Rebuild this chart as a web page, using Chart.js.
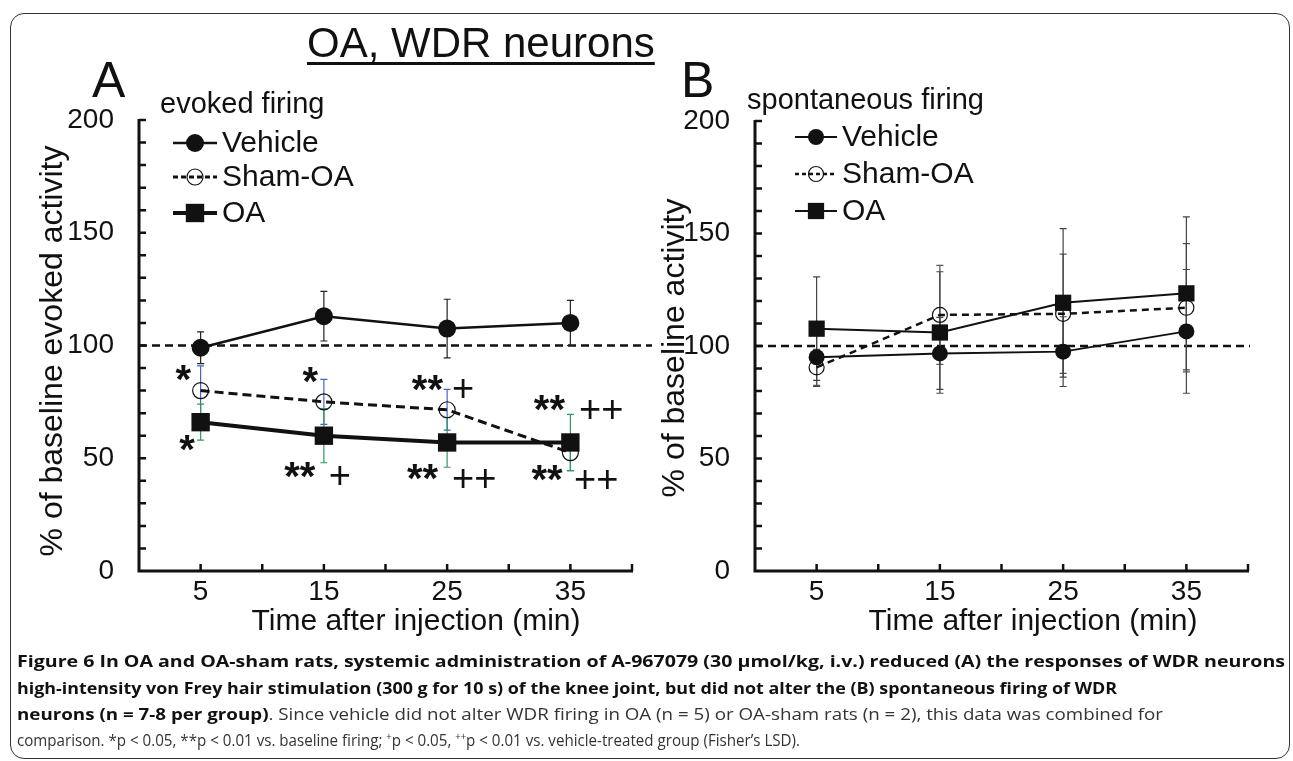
<!DOCTYPE html>
<html>
<head>
<meta charset="utf-8">
<script src="https://cdn.jsdelivr.net/npm/chart.js@4.4.0/dist/chart.umd.min.js"></script>
<style>
  body { margin: 0; width: 1293px; height: 761px; overflow: hidden; background: #fff; position: relative; font-family: "Liberation Sans", Arial, sans-serif; color: #111; }
  #frame { position: absolute; left: 10px; top: 13px; width: 1278px; height: 744px; border: 1.5px solid #333; border-radius: 14px; }
  canvas { position: absolute; left: 0; top: 0; }
  .lbl { position: absolute; white-space: nowrap; line-height: 1; }
  #title { left: 307px; top: 22px; font-size: 42px; text-decoration: underline; text-decoration-thickness: 3px; text-underline-offset: 5px; }
  #pa, #pb { top: 55px; font-size: 50px; }
  #pa { left: 92px; }
  #pb { left: 681px; }
  .sub { font-size: 29px; }
  .cap { position: absolute; left: 17px; white-space: nowrap; line-height: 1; font-family: "Open Sans", sans-serif; font-size: 16px; color: #333; transform-origin: 0 0; }
  .cap b { color: #111; }
  .cap sup { font-size: 10px; vertical-align: 6px; line-height: 0; }
</style>
</head>
<body>
<div id="frame"></div>
<canvas id="chartA" width="1293" height="761"></canvas>
<canvas id="chartB" width="1293" height="761"></canvas>
<div class="lbl" id="title">OA, WDR neurons</div>
<div class="lbl" id="pa">A</div>
<div class="lbl" id="pb">B</div>
<div class="lbl sub" style="left:160px;top:89px">evoked firing</div>
<div class="lbl sub" style="left:747px;top:85px">spontaneous firing</div>
<div class="cap" data-w="1268" style="top:653px"><b>Figure 6 In OA and OA-sham rats, systemic administration of A-967079 (30 μmol/kg, i.v.) reduced (A) the responses of WDR neurons</b></div>
<div class="cap" data-w="1100" style="top:680px"><b>high-intensity von Frey hair stimulation (300 g for 10 s) of the knee joint, but did not alter the (B) spontaneous firing of WDR</b></div>
<div class="cap" data-w="1146" style="top:706px"><b>neurons (n = 7-8 per group)</b>. Since vehicle did not alter WDR firing in OA (n = 5) or OA-sham rats (n = 2), this data was combined for</div>
<div class="cap" data-w="783" style="top:732px">comparison. *p &lt; 0.05, **p &lt; 0.01 vs. baseline firing; <sup>+</sup>p &lt; 0.05, <sup>++</sup>p &lt; 0.01 vs. vehicle-treated group (Fisher’s LSD).</div>
<script>
const FONT = '"Liberation Sans", Arial, sans-serif';

const times = [5, 15, 25, 35];
const seriesNames = ['Vehicle', 'Sham-OA', 'OA'];
const xTicks = [5, 15, 25, 35];
const yTicks = [0, 50, 100, 150, 200];
const baseline = 100;

// panel A: evoked firing, % of baseline (mean, error)
const evokedVehicle = [99, 113, 107.5, 110];
const evokedVehicleErr = [7, 11, 13, 10];
const evokedSham = [80, 75, 71.5, 52.5];
const evokedShamErr = [11, 10, 9, 8];
const evokedOA = [66, 60, 57, 57];
const evokedOAErr = [8, 12, 11, 12.5];

// panel B: spontaneous firing
const spontVehicle = [95, 96.7, 97.5, 106.5];
const spontVehicleErr = [13, 16, 15.5, 27.5];
const spontSham = [90.5, 113.8, 114.3, 117];
const spontShamErr = [8, 22, 26.5, 28.5];
const spontOA = [107.7, 106, 119.2, 123.4];
const spontOAErr = [23, 27, 33, 34];

// significance marks in panel A (text, time, %)
const evokedMarks = [
  ['*', 3.6, 87.8], ['*', 3.9, 56.8], ['*', 13.9, 86.9],
  ['**', 13.05, 44.8], ['+', 16.3, 42.6],
  ['**', 23.4, 83.4], ['+', 26.3, 81.2],
  ['**', 23.0, 43.9], ['++', 27.2, 41.2],
  ['**', 33.3, 74.5], ['++', 37.5, 71.8],
  ['**', 33.1, 43.5], ['++', 37.1, 40.8]
];

const pts = arr => times.map((t, i) => ({ x: t, y: arr[i] }));

function textMid(ctx, txt, cx, cy) {
  const m = ctx.measureText(txt);
  ctx.fillText(txt, cx, cy + (m.actualBoundingBoxAscent - m.actualBoundingBoxDescent) / 2);
}

const decor = {
  id: 'decor',
  beforeDatasetsDraw(chart, args, o) {
    const ctx = chart.ctx, xs = chart.scales.x, ys = chart.scales.y, a = chart.chartArea;
    ctx.save();
    // axes with inward ticks
    ctx.strokeStyle = '#111';
    ctx.lineWidth = 3;
    ctx.beginPath();
    ctx.moveTo(a.left, a.top - 1);
    ctx.lineTo(a.left, a.bottom);
    ctx.lineTo(a.right + 1, a.bottom);
    ctx.stroke();
    ctx.lineWidth = 2.5;
    ctx.beginPath();
    ys.ticks.forEach(t => {
      if (t.value === 0) return;
      const py = ys.getPixelForValue(t.value);
      ctx.moveTo(a.left, py); ctx.lineTo(a.left + 7, py);
    });
    xs.ticks.forEach(t => {
      if (t.value === 0) return;
      const px = xs.getPixelForValue(t.value);
      ctx.moveTo(px, a.bottom); ctx.lineTo(px, a.bottom - 7);
    });
    ctx.stroke();
    // baseline
    const yb = ys.getPixelForValue(baseline);
    ctx.setLineDash([8, 5]);
    ctx.lineWidth = 2.5;
    ctx.beginPath();
    ctx.moveTo(a.left, yb); ctx.lineTo(a.right + o.refExtend, yb);
    ctx.stroke();
    ctx.setLineDash([]);
    // error bars
    chart.data.datasets.forEach(ds => {
      ctx.strokeStyle = ds.errColor;
      ctx.lineWidth = 1.2;
      ctx.beginPath();
      ds.data.forEach((p, i) => {
        const px = xs.getPixelForValue(p.x);
        const top = ys.getPixelForValue(p.y + ds.err[i]);
        const bot = ys.getPixelForValue(p.y - ds.err[i]);
        ctx.moveTo(px, top); ctx.lineTo(px, bot);
        ctx.moveTo(px - 3.5, top); ctx.lineTo(px + 3.5, top);
        ctx.moveTo(px - 3.5, bot); ctx.lineTo(px + 3.5, bot);
      });
      ctx.stroke();
    });
    ctx.restore();
  },
  afterDraw(chart, args, o) {
    const ctx = chart.ctx, xs = chart.scales.x, ys = chart.scales.y;
    ctx.save();
    ctx.fillStyle = '#111';
    ctx.textAlign = 'center';
    // axis titles
    ctx.font = '30px ' + FONT;
    textMid(ctx, o.xTitle, o.xTitleAt[0], o.xTitleAt[1]);
    ctx.save();
    ctx.translate(o.yTitleAt[0], o.yTitleAt[1]);
    ctx.rotate(-Math.PI / 2);
    ctx.font = '32px ' + FONT;
    textMid(ctx, o.yTitle, 0, 0);
    ctx.restore();
    // significance marks
    (o.marks || []).forEach(([t, x, y]) => {
      ctx.font = (t.includes('*') ? 'bold 40px ' : '38px ') + FONT;
      textMid(ctx, t, xs.getPixelForValue(x), ys.getPixelForValue(y));
    });
    // legend
    const L = o.legend;
    chart.data.datasets.forEach((ds, i) => {
      const cy = L.rows[i];
      ctx.strokeStyle = ds.borderColor;
      ctx.lineWidth = ds.borderWidth;
      ctx.setLineDash(ds.borderDash ? L.dash : []);
      ctx.beginPath();
      ctx.moveTo(L.x0, cy); ctx.lineTo(L.x0 + L.len, cy);
      ctx.stroke();
      ctx.setLineDash([]);
      ctx.fillStyle = ds.pointBackgroundColor;
      ctx.strokeStyle = ds.pointBorderColor || '#111';
      ctx.lineWidth = ds.pointBorderWidth;
      Chart.helpers.drawPoint(ctx, { pointStyle: ds.pointStyle, rotation: 0, radius: ds.pointRadius, borderWidth: ds.pointBorderWidth }, L.x0 + L.len / 2, cy);
      ctx.fillStyle = '#111';
      ctx.textAlign = 'left';
      ctx.font = '30px ' + FONT;
      ctx.textBaseline = 'middle';
      ctx.fillText(ds.label, L.x0 + L.len + 5, cy + 1);
      ctx.textBaseline = 'alphabetic';
    });
    ctx.restore();
  }
};

function makeChart(id, sets, pad, extra) {
  return new Chart(document.getElementById(id), {
    type: 'line',
    data: { datasets: sets },
    options: {
      responsive: false,
      animation: false,
      events: [],
      layout: { padding: pad },
      plugins: { legend: { display: false }, tooltip: { enabled: false }, decor: extra },
      scales: {
        x: {
          type: 'linear', min: 0, max: 40,
          afterFit: s => { s.height = 50; },
          grid: { display: false }, border: { display: false },
          ticks: { stepSize: 5, autoSkip: false, maxRotation: 0, padding: -4, color: '#111',
                   font: { family: FONT, size: 28 }, callback: v => xTicks.includes(v) ? v : '' }
        },
        y: {
          min: 0, max: 200,
          afterFit: s => { s.width = 100; },
          grid: { display: false }, border: { display: false },
          ticks: { stepSize: 10, autoSkip: false, padding: 17, color: '#111',
                   font: { family: FONT, size: 28 }, callback: v => yTicks.includes(v) ? v : '' }
        }
      }
    },
    plugins: [decor]
  });
}

const circleSet = (vals, err, errColor, r, lw) => ({
  label: seriesNames[0], data: pts(vals), err, errColor, order: 2,
  borderColor: '#111', borderWidth: lw,
  pointStyle: 'circle', pointRadius: r, pointBackgroundColor: '#111', pointBorderWidth: 0
});
const shamSet = (vals, err, errColor, r, lw, dash) => ({
  label: seriesNames[1], data: pts(vals), err, errColor, order: 3,
  borderColor: '#111', borderWidth: lw, borderDash: dash,
  pointStyle: 'circle', pointRadius: r, pointBackgroundColor: 'rgba(0,0,0,0)',
  pointBorderColor: '#111', pointBorderWidth: 1.2
});
const squareSet = (vals, err, errColor, r, lw) => ({
  label: seriesNames[2], data: pts(vals), err, errColor, order: 1,
  borderColor: '#111', borderWidth: lw,
  pointStyle: 'rect', pointRadius: r, pointBackgroundColor: '#111', pointBorderWidth: 0
});

makeChart('chartA', [
  circleSet(evokedVehicle, evokedVehicleErr, '#222', 9, 2.5),
  shamSet(evokedSham, evokedShamErr, '#4a62c0', 8, 3, [9, 5]),
  squareSet(evokedOA, evokedOAErr, '#2f9a5a', 13, 4)
], { left: 39, top: 120, right: 661, bottom: 140 }, {
  refExtend: 20,
  xTitle: 'Time after injection (min)', xTitleAt: [416, 622],
  yTitle: '% of baseline evoked activity', yTitleAt: [54, 351],
  marks: evokedMarks,
  legend: { x0: 173, len: 44, rows: [143, 177, 213], dash: [5, 3] }
});

makeChart('chartB', [
  circleSet(spontVehicle, spontVehicleErr, '#444', 8, 2),
  shamSet(spontSham, spontShamErr, '#555', 7.5, 2.5, [7, 5]),
  squareSet(spontOA, spontOAErr, '#444', 11.5, 2)
], { left: 655, top: 121, right: 45, bottom: 140 }, {
  refExtend: 2,
  xTitle: 'Time after injection (min)', xTitleAt: [1033, 622],
  yTitle: '% of baseline activity', yTitleAt: [676, 348],
  marks: [],
  legend: { x0: 795, len: 42, rows: [137, 174, 211], dash: [4, 3] }
});

// fit each caption line to the width it has in the original
document.fonts.ready.then(() => {
  document.querySelectorAll('.cap').forEach(el => {
    const w = el.getBoundingClientRect().width;
    el.style.transform = 'scaleX(' + (+el.dataset.w / w) + ')';
  });
});
</script>
</body>
</html>
